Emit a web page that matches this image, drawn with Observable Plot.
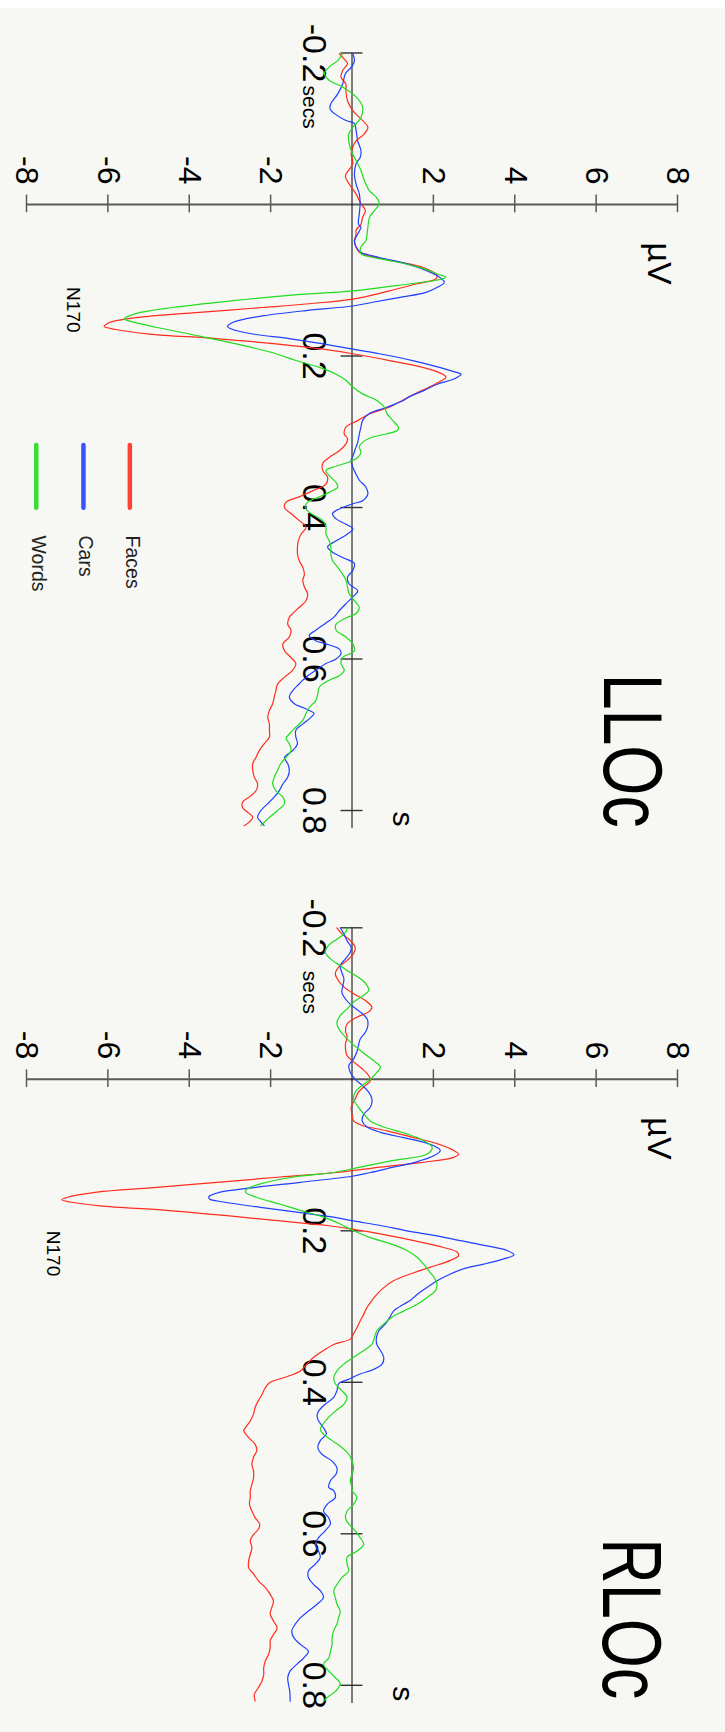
<!DOCTYPE html>
<html><head><meta charset="utf-8">
<script src="https://cdn.jsdelivr.net/npm/d3@7"></script>
<script src="https://cdn.jsdelivr.net/npm/@observablehq/plot@0.6"></script>
<style>
html,body{margin:0;padding:0;background:#f7f7f3;}
body{background:linear-gradient(#ffffff 0 8px, #f7f7f3 8px);}
#chart{width:725px;}
#chart svg{display:block;}
</style></head><body><div id="chart"></div>
<script>
// ---- data ----
const panelNames = ["LLOc", "RLOc"];
const conditions = ["Faces", "Cars", "Words"];
const conditionColors = ["#ff2d1e", "#2040ff", "#1fdc1f"];
const timeTicks = [-0.2, 0.2, 0.4, 0.6, 0.8];
const timeTickLabels = ["-0.2", "0.2", "0.4", "0.6", "0.8"];
const voltTicks = [-8, -6, -4, -2, 2, 4, 6, 8];
const voltTickLabels = ["-8", "-6", "-4", "-2", "2", "4", "6", "8"];
const voltAxisLabel = "µV";
const timeAxisLabel = "s";
const timeUnitLabel = "secs";
const annotationLabel = "N170";

// [time (s), amplitude (µV)]
const llocFaces = [[-0.199,-0.31],[-0.192,-0.19],[-0.186,-0.11],[-0.177,-0.23],[-0.168,-0.27],[-0.159,-0.15],[-0.150,-0.15],[-0.137,-0.11],[-0.124,0.02],[-0.113,0.22],[-0.102,0.39],[-0.093,0.30],[-0.084,0.10],[-0.076,0.02],[-0.067,-0.02],[-0.054,0.02],[-0.040,-0.15],[-0.036,-0.16],[-0.027,-0.07],[-0.014,0.10],[-0.001,0.22],[0.008,0.33],[0.017,0.26],[0.026,0.22],[0.034,0.10],[0.039,0.10],[0.048,0.06],[0.056,0.10],[0.063,0.18],[0.070,0.59],[0.076,1.16],[0.083,1.74],[0.092,2.07],[0.098,2.07],[0.105,1.57],[0.114,0.92],[0.125,0.02],[0.131,-1.05],[0.136,-2.20],[0.142,-3.67],[0.148,-5.07],[0.153,-5.76],[0.157,-6.01],[0.161,-6.09],[0.165,-5.80],[0.171,-4.98],[0.177,-3.34],[0.184,-1.87],[0.191,-0.72],[0.197,0.02],[0.206,0.92],[0.215,1.74],[0.224,2.23],[0.228,2.31],[0.234,2.15],[0.241,1.90],[0.250,1.55],[0.261,1.15],[0.268,0.90],[0.276,0.45],[0.285,0.15],[0.294,-0.15],[0.303,-0.19],[0.309,-0.11],[0.316,-0.15],[0.325,-0.31],[0.334,-0.56],[0.342,-0.72],[0.351,-0.72],[0.360,-0.60],[0.369,-0.64],[0.378,-0.97],[0.386,-1.30],[0.393,-1.62],[0.400,-1.66],[0.408,-1.50],[0.417,-1.30],[0.426,-1.13],[0.435,-1.25],[0.444,-1.32],[0.452,-1.34],[0.461,-1.34],[0.470,-1.30],[0.479,-1.21],[0.488,-1.17],[0.496,-1.21],[0.505,-1.17],[0.514,-1.09],[0.523,-1.13],[0.532,-1.30],[0.540,-1.46],[0.545,-1.54],[0.554,-1.58],[0.562,-1.50],[0.571,-1.54],[0.580,-1.70],[0.589,-1.66],[0.598,-1.50],[0.606,-1.38],[0.615,-1.46],[0.624,-1.66],[0.633,-1.83],[0.642,-1.87],[0.650,-1.91],[0.659,-1.95],[0.668,-2.03],[0.677,-2.07],[0.686,-2.03],[0.694,-2.03],[0.703,-2.03],[0.712,-2.16],[0.721,-2.28],[0.730,-2.36],[0.738,-2.44],[0.747,-2.44],[0.756,-2.40],[0.765,-2.32],[0.774,-2.36],[0.782,-2.52],[0.789,-2.69],[0.796,-2.69],[0.802,-2.57],[0.809,-2.44],[0.815,-2.52],[0.820,-2.65]];
const llocCars = [[-0.199,0.02],[-0.190,0.06],[-0.181,-0.02],[-0.173,-0.16],[-0.159,-0.23],[-0.146,-0.35],[-0.133,-0.52],[-0.126,-0.54],[-0.120,-0.43],[-0.111,-0.15],[-0.107,0.06],[-0.098,0.10],[-0.084,0.14],[-0.071,0.22],[-0.062,0.20],[-0.054,0.10],[-0.040,0.06],[-0.027,0.10],[-0.014,0.18],[-0.001,0.20],[0.012,0.18],[0.026,0.16],[0.030,0.22],[0.039,0.14],[0.048,0.06],[0.056,0.10],[0.063,0.22],[0.070,0.67],[0.078,1.33],[0.087,1.82],[0.096,2.15],[0.103,2.27],[0.109,2.11],[0.116,1.82],[0.122,1.25],[0.129,0.51],[0.134,0.02],[0.140,-1.13],[0.147,-2.20],[0.153,-2.77],[0.157,-2.98],[0.161,-3.06],[0.165,-2.93],[0.171,-2.44],[0.177,-1.54],[0.184,-0.72],[0.191,0.02],[0.197,0.67],[0.206,1.49],[0.215,2.15],[0.221,2.52],[0.224,2.68],[0.230,2.52],[0.237,2.11],[0.246,1.75],[0.254,1.40],[0.259,1.25],[0.268,0.84],[0.276,0.43],[0.285,0.26],[0.294,0.22],[0.303,0.18],[0.314,0.14],[0.320,0.10],[0.331,0.03],[0.338,-0.02],[0.347,0.02],[0.356,0.10],[0.364,0.18],[0.373,0.34],[0.382,0.39],[0.391,0.26],[0.395,0.02],[0.400,-0.23],[0.404,-0.39],[0.408,-0.48],[0.415,-0.39],[0.422,-0.15],[0.428,0.02],[0.435,-0.11],[0.444,-0.39],[0.452,-0.60],[0.459,-0.48],[0.466,-0.23],[0.474,0.06],[0.483,0.02],[0.492,-0.11],[0.501,-0.07],[0.510,0.14],[0.518,0.02],[0.527,-0.15],[0.536,-0.31],[0.545,-0.45],[0.554,-0.68],[0.562,-0.89],[0.569,-1.05],[0.576,-0.89],[0.580,-0.64],[0.587,-0.31],[0.593,-0.27],[0.600,-0.39],[0.606,-0.64],[0.615,-0.89],[0.624,-1.13],[0.633,-1.30],[0.642,-1.46],[0.650,-1.54],[0.659,-1.42],[0.664,-1.21],[0.668,-1.05],[0.672,-0.93],[0.677,-1.01],[0.686,-1.21],[0.694,-1.38],[0.703,-1.38],[0.712,-1.34],[0.721,-1.46],[0.730,-1.66],[0.738,-1.58],[0.747,-1.54],[0.756,-1.58],[0.765,-1.70],[0.774,-1.79],[0.782,-1.91],[0.791,-2.07],[0.800,-2.24],[0.809,-2.32],[0.815,-2.24],[0.820,-2.16]];
const llocWords = [[-0.199,-0.23],[-0.190,-0.35],[-0.181,-0.57],[-0.173,-0.68],[-0.164,-0.56],[-0.155,-0.23],[-0.142,0.10],[-0.129,0.26],[-0.115,0.22],[-0.102,0.02],[-0.093,-0.08],[-0.084,-0.08],[-0.071,-0.02],[-0.058,0.10],[-0.045,0.22],[-0.032,0.30],[-0.018,0.43],[-0.010,0.59],[-0.001,0.67],[0.008,0.55],[0.017,0.43],[0.030,0.39],[0.039,0.37],[0.048,0.34],[0.056,0.22],[0.065,0.22],[0.070,0.51],[0.074,0.92],[0.083,1.66],[0.092,2.11],[0.096,2.31],[0.100,2.07],[0.107,1.08],[0.114,0.02],[0.120,-1.54],[0.127,-2.93],[0.136,-4.41],[0.144,-5.31],[0.151,-5.60],[0.155,-5.39],[0.162,-4.82],[0.171,-4.00],[0.180,-3.18],[0.188,-2.52],[0.197,-1.87],[0.206,-1.38],[0.215,-0.80],[0.224,-0.39],[0.232,-0.15],[0.241,0.02],[0.250,0.26],[0.259,0.62],[0.268,0.80],[0.276,0.86],[0.285,1.00],[0.294,1.14],[0.298,1.12],[0.303,0.84],[0.307,0.51],[0.314,0.26],[0.320,0.18],[0.327,0.22],[0.334,0.14],[0.340,-0.07],[0.347,-0.48],[0.351,-0.64],[0.360,-0.52],[0.367,-0.39],[0.373,-0.35],[0.380,-0.56],[0.386,-0.80],[0.393,-1.09],[0.400,-1.15],[0.408,-1.01],[0.417,-0.72],[0.426,-0.64],[0.435,-0.64],[0.444,-0.56],[0.452,-0.52],[0.461,-0.52],[0.470,-0.48],[0.479,-0.35],[0.488,-0.23],[0.496,-0.15],[0.505,-0.11],[0.514,-0.07],[0.523,0.06],[0.532,0.18],[0.540,0.10],[0.545,-0.11],[0.554,-0.39],[0.562,-0.39],[0.571,-0.15],[0.580,0.02],[0.589,0.06],[0.598,-0.23],[0.606,-0.27],[0.615,-0.19],[0.622,-0.31],[0.628,-0.56],[0.637,-0.80],[0.646,-0.84],[0.655,-0.89],[0.664,-1.05],[0.672,-1.13],[0.681,-1.21],[0.690,-1.38],[0.699,-1.54],[0.705,-1.62],[0.712,-1.54],[0.721,-1.50],[0.730,-1.62],[0.738,-1.75],[0.747,-1.83],[0.756,-1.91],[0.765,-1.95],[0.774,-1.87],[0.782,-1.70],[0.791,-1.66],[0.800,-1.83],[0.809,-2.03],[0.818,-2.20],[0.820,-2.24]];
const rlocFaces = [[-0.200,-0.37],[-0.192,-0.25],[-0.183,-0.04],[-0.174,0.08],[-0.166,0.04],[-0.157,-0.12],[-0.148,-0.33],[-0.139,-0.41],[-0.130,-0.33],[-0.122,-0.20],[-0.113,0.04],[-0.104,0.33],[-0.095,0.49],[-0.089,0.41],[-0.082,0.12],[-0.073,-0.12],[-0.064,-0.16],[-0.056,-0.12],[-0.047,-0.16],[-0.040,-0.16],[-0.031,-0.12],[-0.023,0.04],[-0.014,0.25],[-0.005,0.41],[0.002,0.45],[0.008,0.33],[0.017,0.16],[0.026,0.08],[0.037,-0.02],[0.046,0.00],[0.055,0.04],[0.061,0.25],[0.068,0.86],[0.077,1.52],[0.085,2.09],[0.094,2.50],[0.099,2.62],[0.103,2.50],[0.110,1.68],[0.116,0.70],[0.123,-0.37],[0.129,-1.76],[0.136,-3.32],[0.143,-4.88],[0.149,-6.27],[0.156,-7.01],[0.159,-7.13],[0.162,-6.93],[0.167,-6.19],[0.173,-4.55],[0.180,-3.07],[0.187,-1.76],[0.193,-0.61],[0.198,0.04],[0.204,0.70],[0.213,1.52],[0.222,2.25],[0.228,2.58],[0.233,2.62],[0.239,2.42],[0.248,1.93],[0.257,1.43],[0.266,1.02],[0.275,0.78],[0.284,0.61],[0.292,0.49],[0.301,0.37],[0.310,0.29],[0.319,0.20],[0.328,0.12],[0.336,0.04],[0.343,-0.04],[0.350,-0.45],[0.358,-0.70],[0.367,-0.94],[0.376,-1.11],[0.385,-1.27],[0.394,-1.68],[0.400,-2.01],[0.407,-2.13],[0.416,-2.21],[0.424,-2.30],[0.433,-2.38],[0.442,-2.42],[0.451,-2.50],[0.460,-2.62],[0.464,-2.66],[0.473,-2.54],[0.482,-2.38],[0.490,-2.34],[0.499,-2.42],[0.508,-2.46],[0.517,-2.42],[0.526,-2.42],[0.535,-2.46],[0.543,-2.50],[0.552,-2.50],[0.561,-2.52],[0.570,-2.46],[0.579,-2.38],[0.587,-2.27],[0.594,-2.30],[0.601,-2.42],[0.609,-2.50],[0.618,-2.46],[0.627,-2.50],[0.636,-2.54],[0.645,-2.54],[0.653,-2.42],[0.662,-2.30],[0.671,-2.13],[0.680,-2.01],[0.689,-1.93],[0.697,-1.97],[0.706,-2.01],[0.715,-1.93],[0.724,-1.84],[0.733,-1.93],[0.741,-2.01],[0.750,-2.01],[0.759,-2.05],[0.768,-2.13],[0.777,-2.17],[0.786,-2.17],[0.794,-2.21],[0.803,-2.30],[0.812,-2.40],[0.821,-2.38]];
const rlocCars = [[-0.200,-0.29],[-0.192,-0.20],[-0.183,-0.12],[-0.174,-0.02],[-0.168,-0.04],[-0.159,-0.16],[-0.150,-0.29],[-0.141,-0.25],[-0.133,-0.20],[-0.124,-0.22],[-0.115,-0.25],[-0.106,-0.16],[-0.097,0.00],[-0.089,0.20],[-0.080,0.37],[-0.071,0.39],[-0.062,0.33],[-0.053,0.20],[-0.045,0.16],[-0.036,0.12],[-0.027,0.04],[-0.018,-0.08],[-0.009,-0.04],[0.000,0.08],[0.008,0.25],[0.017,0.41],[0.026,0.49],[0.037,0.45],[0.046,0.29],[0.055,0.25],[0.063,0.37],[0.070,0.70],[0.077,1.27],[0.083,1.76],[0.090,2.09],[0.094,2.17],[0.101,2.01],[0.110,1.52],[0.116,1.02],[0.123,0.45],[0.128,0.00],[0.136,-1.27],[0.143,-2.42],[0.149,-3.24],[0.155,-3.52],[0.158,-3.50],[0.162,-3.16],[0.169,-2.25],[0.176,-1.27],[0.182,-0.45],[0.187,0.04],[0.193,0.70],[0.200,1.35],[0.206,2.01],[0.213,2.66],[0.220,3.32],[0.226,3.81],[0.232,3.98],[0.237,3.73],[0.244,3.24],[0.250,2.75],[0.257,2.42],[0.266,2.09],[0.275,1.84],[0.284,1.60],[0.292,1.43],[0.297,1.27],[0.306,1.02],[0.314,0.93],[0.323,0.82],[0.332,0.66],[0.341,0.60],[0.350,0.61],[0.358,0.70],[0.367,0.78],[0.376,0.74],[0.383,0.53],[0.389,0.20],[0.396,-0.08],[0.402,-0.33],[0.411,-0.37],[0.420,-0.45],[0.429,-0.66],[0.438,-0.82],[0.444,-0.86],[0.451,-0.82],[0.460,-0.70],[0.468,-0.63],[0.477,-0.78],[0.486,-0.84],[0.495,-0.74],[0.504,-0.49],[0.513,-0.37],[0.521,-0.39],[0.530,-0.53],[0.539,-0.57],[0.543,-0.45],[0.552,-0.41],[0.561,-0.61],[0.570,-0.70],[0.579,-0.57],[0.587,-0.53],[0.596,-0.66],[0.605,-0.82],[0.614,-0.90],[0.623,-0.82],[0.631,-0.78],[0.640,-0.90],[0.649,-1.07],[0.658,-1.07],[0.667,-0.94],[0.675,-0.78],[0.684,-0.70],[0.693,-0.86],[0.702,-1.07],[0.711,-1.27],[0.719,-1.39],[0.728,-1.48],[0.737,-1.43],[0.746,-1.27],[0.755,-1.07],[0.764,-1.19],[0.772,-1.35],[0.781,-1.52],[0.790,-1.58],[0.799,-1.56],[0.808,-1.53],[0.821,-1.52]];
const rlocWords = [[-0.200,-0.12],[-0.194,-0.16],[-0.185,-0.37],[-0.177,-0.57],[-0.168,-0.66],[-0.159,-0.53],[-0.150,-0.29],[-0.141,-0.04],[-0.133,0.20],[-0.124,0.37],[-0.117,0.41],[-0.111,0.29],[-0.102,0.04],[-0.093,-0.12],[-0.084,-0.29],[-0.075,-0.37],[-0.067,-0.33],[-0.058,-0.20],[-0.049,-0.04],[-0.040,0.16],[-0.031,0.37],[-0.023,0.57],[-0.016,0.70],[-0.009,0.61],[0.000,0.45],[0.008,0.25],[0.017,0.08],[0.026,0.04],[0.037,0.16],[0.046,0.29],[0.055,0.45],[0.063,0.78],[0.072,1.35],[0.081,1.76],[0.090,1.97],[0.099,1.84],[0.107,1.02],[0.116,0.20],[0.123,-0.45],[0.129,-1.43],[0.138,-2.25],[0.145,-2.58],[0.149,-2.62],[0.156,-2.34],[0.165,-1.76],[0.173,-1.27],[0.182,-0.70],[0.191,-0.29],[0.200,0.04],[0.209,0.45],[0.217,0.94],[0.226,1.35],[0.235,1.60],[0.244,1.76],[0.253,1.89],[0.261,2.01],[0.270,2.09],[0.279,2.05],[0.288,1.85],[0.297,1.60],[0.306,1.27],[0.314,0.98],[0.323,0.78],[0.332,0.61],[0.341,0.55],[0.350,0.49],[0.358,0.29],[0.367,0.04],[0.376,-0.20],[0.385,-0.37],[0.394,-0.45],[0.402,-0.41],[0.411,-0.25],[0.420,-0.12],[0.429,-0.20],[0.438,-0.41],[0.446,-0.57],[0.455,-0.71],[0.462,-0.78],[0.468,-0.71],[0.477,-0.49],[0.486,-0.25],[0.495,-0.08],[0.504,0.00],[0.513,0.04],[0.521,0.00],[0.530,-0.04],[0.539,0.00],[0.543,0.00],[0.552,0.12],[0.561,0.04],[0.570,-0.12],[0.579,-0.16],[0.587,-0.08],[0.596,0.08],[0.605,0.20],[0.614,0.29],[0.623,0.12],[0.631,-0.12],[0.640,-0.12],[0.649,-0.08],[0.658,-0.25],[0.667,-0.37],[0.675,-0.45],[0.684,-0.41],[0.693,-0.37],[0.702,-0.29],[0.711,-0.33],[0.719,-0.37],[0.728,-0.45],[0.737,-0.49],[0.746,-0.49],[0.755,-0.53],[0.764,-0.57],[0.772,-0.70],[0.781,-0.57],[0.790,-0.41],[0.797,-0.29],[0.803,-0.33],[0.810,-0.45],[0.816,-0.61],[0.821,-0.70]];

// ---- layout (positions in the chart's own units) ----
const panelLayouts = [
  {name: panelNames[0], series: [llocFaces, llocCars, llocWords], height: 875, y0: 52.5,
   title: {x: 6.84, t: 0.721, length: 154}, n170: {x: -6.86, t: 0.139}, secsDy: 32.5, legend: true},
  {name: panelNames[1], series: [rlocFaces, rlocCars, rlocWords], height: 857, y0: 52.3,
   title: {x: 6.82, t: 0.712, length: 161}, n170: {x: -7.35, t: 0.230}, secsDy: 43, legend: false}
];
const legendX = [-5.46, -6.6, -7.76];
const legendLine = {t1: 0.318, t2: 0.401, labelT: 0.437};

const FONT = "'Liberation Sans', Arial, Helvetica, sans-serif";

function panel(L) {
  const rows = L.series.flatMap((pts, i) => pts.map(([t, v]) => ({t, v, cond: conditions[i]})));
  const marks = [
    // µV axis
    Plot.ruleY([0], {x1: -8, x2: 8, stroke: "#5a5a5a", strokeWidth: 2}),
    Plot.ruleX(voltTicks, {x: d => d, y1: -0.0125, y2: 0.0108, stroke: "#5a5a5a", strokeWidth: 1.5}),
    Plot.text(voltTicks, {x: d => d, y: 0, text: (d, i) => voltTickLabels[i], rotate: 90,
      textAnchor: "end", lineAnchor: "middle", dy: -20, fontSize: 32, fill: "#000"}),
    Plot.text([voltAxisLabel], {x: 8, y: 0, rotate: 90, textAnchor: "start", lineAnchor: "middle",
      dx: -18.5, dy: 38, fontSize: 34, fill: "#000"}),
    // time axis
    Plot.ruleX([0], {y1: -0.2, y2: 0.824, stroke: "#000", strokeWidth: 1}),
    Plot.ruleY(timeTicks, {y: d => d, x1: -0.27, x2: 0.27, stroke: "#333", strokeWidth: 1.4}),
    Plot.text(timeTicks, {x: 0, y: d => d, text: (d, i) => timeTickLabels[i], rotate: 90,
      textAnchor: "middle", lineAnchor: "middle", dx: -37.8, fontSize: 34, fill: "#000"}),
    Plot.text([timeUnitLabel], {x: 0, y: -0.2, rotate: 90, textAnchor: "start", lineAnchor: "middle",
      dx: -42, dy: L.secsDy, fontSize: 21, fill: "#000"}),
    Plot.text([timeAxisLabel], {x: 0, y: 0.8, rotate: 90, textAnchor: "middle", lineAnchor: "middle",
      dx: 51, dy: 8.5, fontSize: 30, fill: "#000"}),
    // annotation & title
    Plot.text([annotationLabel], {x: L.n170.x, y: L.n170.t, rotate: 90, textAnchor: "middle",
      lineAnchor: "middle", fontSize: 19, fill: "#000"}),
    Plot.text([L.name], {x: L.title.x, y: L.title.t, rotate: 90, textAnchor: "middle",
      lineAnchor: "middle", fontSize: 72, fill: "#000"}),
    // waveforms
    Plot.line(rows, {x: "v", y: "t", z: "cond", stroke: "cond", strokeWidth: 1.2, curve: "catmull-rom"})
  ];
  if (L.legend) {
    marks.push(
      Plot.ruleX(conditions, {x: (d, i) => legendX[i], y1: legendLine.t1, y2: legendLine.t2,
        stroke: d => d, strokeWidth: 4.5, strokeLinecap: "round", strokeOpacity: 0.9}),
      Plot.text(conditions, {x: (d, i) => legendX[i], y: legendLine.labelT, rotate: 90,
        textAnchor: "start", lineAnchor: "middle", dx: 2, fontSize: 19.5, fill: "#222"})
    );
  }
  const svg = Plot.plot({
    width: 725, height: L.height,
    marginTop: 0, marginBottom: 0, marginLeft: 0, marginRight: 0,
    x: {domain: [-8, 8], range: [26, 677], axis: null},
    y: {domain: [-0.2, 0.8], range: [L.y0, L.y0 + 757.5], axis: null},
    color: {domain: conditions, range: conditionColors},
    style: {background: "transparent", fontFamily: FONT, overflow: "visible"},
    marks
  });
  // tall, condensed title lettering, as in the original
  d3.select(svg).selectAll("text")
    .filter(function () { return this.textContent === L.name; })
    .attr("textLength", L.title.length)
    .attr("lengthAdjust", "spacingAndGlyphs")
    .attr("transform", function () { return this.getAttribute("transform") + " scale(1,1.16)"; });
  return svg;
}

const host = document.getElementById("chart");
for (const L of panelLayouts) host.appendChild(panel(L));
</script>
</body></html>
